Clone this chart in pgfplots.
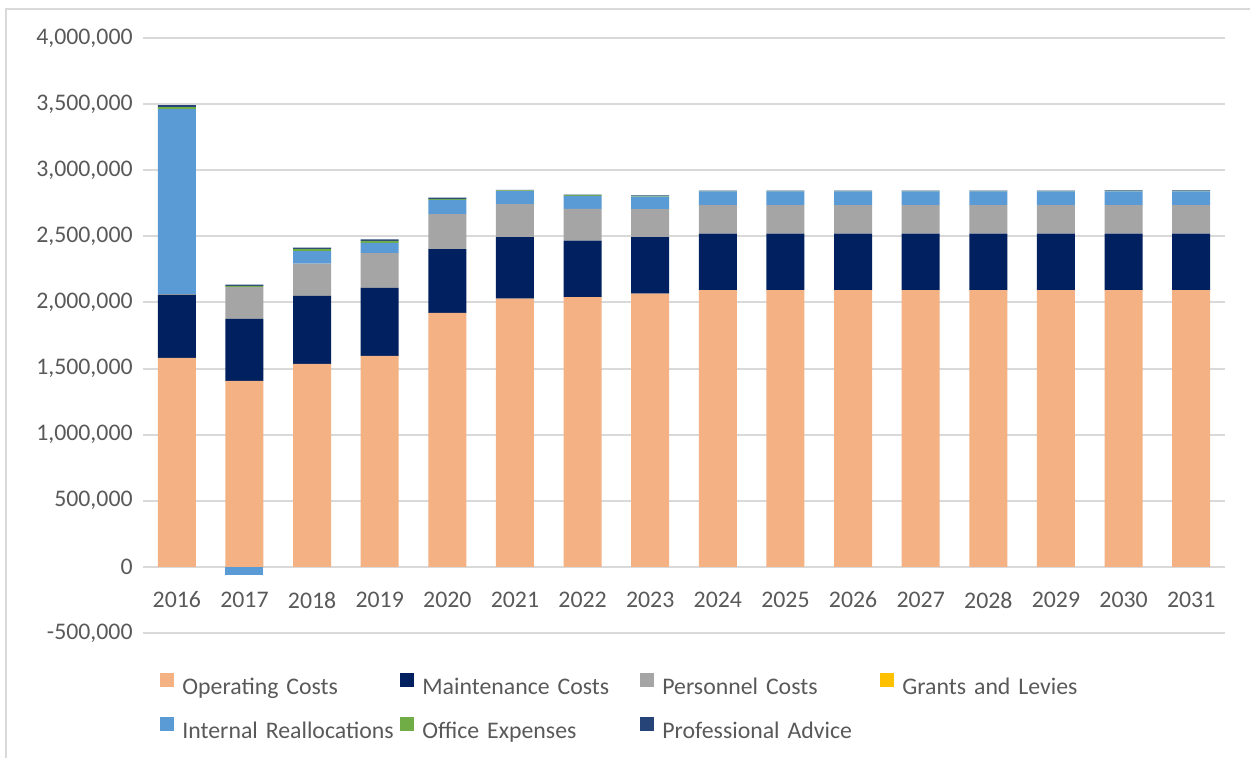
\documentclass[border=0pt]{standalone}
\usepackage{pgfplots}
\pgfplotsset{compat=1.18}
\usepackage{fontspec}
\setmainfont{Carlito}

\definecolor{opcost}{HTML}{F4B183}
\definecolor{maint}{HTML}{002060}
\definecolor{pers}{HTML}{A5A5A5}
\definecolor{grants}{HTML}{FFC000}
\definecolor{intre}{HTML}{5B9BD5}
\definecolor{office}{HTML}{70AD47}
\definecolor{profad}{HTML}{264478}
\definecolor{gridc}{HTML}{D9D9D9}
\definecolor{labc}{HTML}{595959}

\begin{document}
\begin{tikzpicture}
\fontsize{11.9pt}{14pt}\selectfont
% picture frame (1250x758 px at 0.5pt per px)
\path[use as bounding box] (0,0) rectangle (625pt,379pt);
\draw[gridc, line width=1pt] (3pt,0) -- (3pt,374.5pt) -- (625pt,374.5pt);

\begin{axis}[
    at={(71.5pt,62.5pt)}, anchor=south west,
    scale only axis,
    width=541pt, height=297.5pt,
    ybar stacked,
    bar width=19pt,
    xmin=-0.5, xmax=15.5,
    ymin=-500000, ymax=4000000,
    xtick={0,...,15},
    xticklabels={2016,2017,2018,2019,2020,2021,2022,2023,2024,2025,2026,2027,2028,2029,2030,2031},
    ytick={-500000,0,500000,1000000,1500000,2000000,2500000,3000000,3500000,4000000},
    scaled y ticks=false,
    /pgf/number format/fixed,
    /pgf/number format/1000 sep={,},
    /pgf/number format/assume math mode=true,
    yticklabel style={inner sep=0pt, xshift=-5pt, text=labc},
    xticklabel style={anchor=center, yshift=16.5pt, text=labc},
    axis line style={draw=none},
    major tick length=0pt,
    ymajorgrids=true,
    grid style={gridc, line width=1pt},
    legend columns=4,
    legend cell align=left,
    legend style={
        draw=none, fill=none,
        at={(0,0)}, anchor=north west,
        xshift=8.5pt, yshift=-20pt,
        inner sep=0pt,
        row sep=9pt,
        text=labc,
        nodes={inner sep=0pt, text height=8.5pt, text depth=2.5pt, text width=109pt},
        /tikz/every odd column/.append style={column sep=4pt},
    },
    legend image code/.code={
        \draw[#1, draw=none] (0pt,0.5pt) rectangle (7pt,7.5pt);
    },
]

% negative part of Internal Reallocations (2017), drawn below zero
\addplot[fill=intre, draw=none, forget plot] coordinates {
    (0,0) (1,-65000) (2,0) (3,0) (4,0) (5,0) (6,0) (7,0)
    (8,0) (9,0) (10,0) (11,0) (12,0) (13,0) (14,0) (15,0)
};

\addplot[fill=opcost, draw=none] coordinates {
    (0,1581000) (1,1407000) (2,1535000) (3,1596000) (4,1921000) (5,2029000)
    (6,2040000) (7,2067000) (8,2093000) (9,2093000) (10,2093000) (11,2093000)
    (12,2093000) (13,2093000) (14,2093000) (15,2093000)
};
\addlegendentry{Operating Costs}

\addplot[fill=maint, draw=none] coordinates {
    (0,476000) (1,469000) (2,515000) (3,514000) (4,482000) (5,465000)
    (6,428000) (7,427000) (8,428000) (9,428000) (10,428000) (11,428000)
    (12,428000) (13,428000) (14,428000) (15,428000)
};
\addlegendentry{Maintenance Costs}

\addplot[fill=pers, draw=none] coordinates {
    (0,5000) (1,242000) (2,244000) (3,263000) (4,265000) (5,249000)
    (6,240000) (7,212000) (8,215000) (9,215000) (10,215000) (11,215000)
    (12,215000) (13,215000) (14,215000) (15,215000)
};
\addlegendentry{Personnel Costs}

\addplot[fill=grants, draw=none] coordinates {
    (0,0) (1,0) (2,0) (3,0) (4,0) (5,0) (6,0) (7,0)
    (8,0) (9,0) (10,0) (11,0) (12,0) (13,0) (14,0) (15,0)
};
\addlegendentry{Grants and Levies}

\addplot[fill=intre, draw=none] coordinates {
    (0,1400000) (1,0) (2,94000) (3,78000) (4,108000) (5,99000)
    (6,98000) (7,95000) (8,103000) (9,103000) (10,103000) (11,103000)
    (12,103000) (13,103000) (14,103000) (15,103000)
};
\addlegendentry{Internal Reallocations}

\addplot[fill=office, draw=none] coordinates {
    (0,15000) (1,7000) (2,18000) (3,15000) (4,8000) (5,5000)
    (6,5000) (7,5000) (8,3000) (9,3000) (10,3000) (11,3000)
    (12,3000) (13,3000) (14,5000) (15,5000)
};
\addlegendentry{Office Expenses}

\addplot[fill=profad, draw=none] coordinates {
    (0,15000) (1,10000) (2,8000) (3,10000) (4,8000) (5,5000)
    (6,5000) (7,3000) (8,3000) (9,3000) (10,3000) (11,3000)
    (12,3000) (13,3000) (14,3000) (15,3000)
};
\addlegendentry{Professional Advice}

\end{axis}
\end{tikzpicture}
\end{document}
